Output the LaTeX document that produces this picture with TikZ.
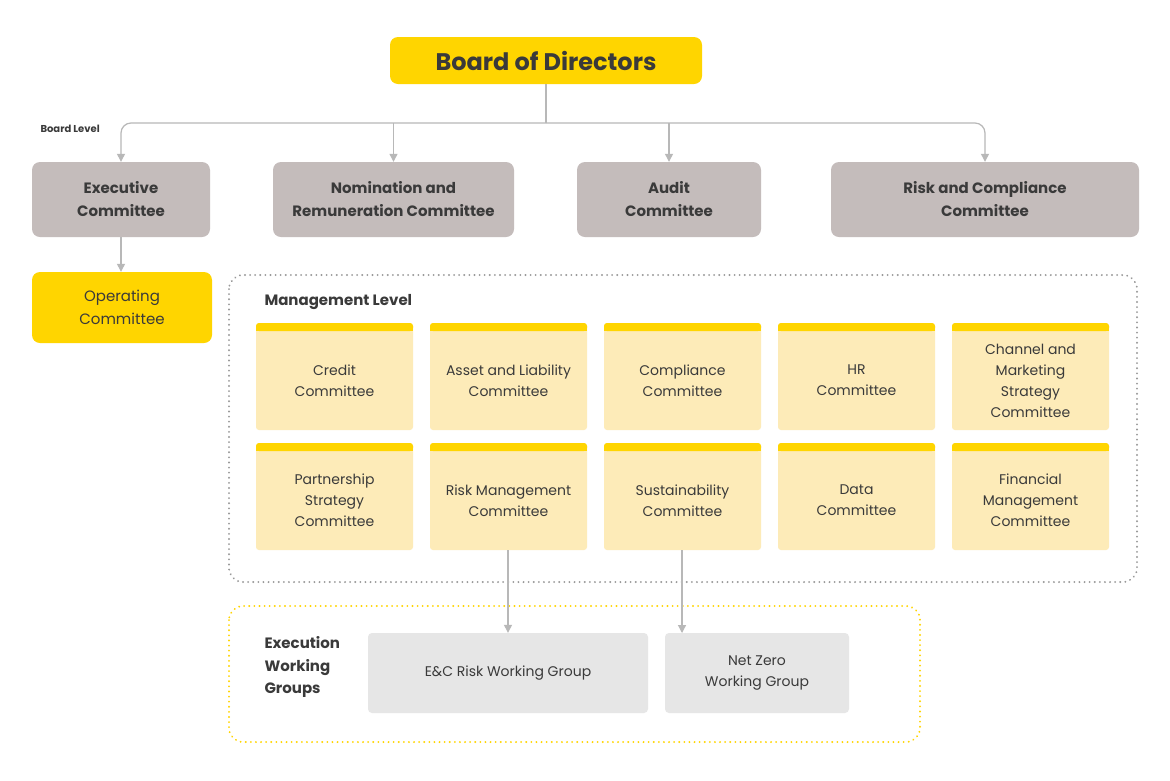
\documentclass[tikz,border=0pt]{standalone}
\usepackage{fontspec}
\setmainfont{Poppins}
\usetikzlibrary{arrows.meta}
\definecolor{yel}{HTML}{FFD500}
\definecolor{gry}{HTML}{C4BCBB}
\definecolor{lyel}{HTML}{FDEBB8}
\definecolor{lgry}{HTML}{E6E6E6}
\definecolor{txt}{HTML}{3A3A3A}
\definecolor{ln}{HTML}{B8B8B8}
\begin{document}
\begin{tikzpicture}[x=1pt,y=-1pt,
  box/.style={rounded corners=8pt,inner sep=0pt,align=center,text=txt},
  arr/.style={draw=ln,line width=1.2pt,-{Triangle[width=8pt,length=8pt]}},
  card/.style={font=\fontsize{14}{21}\selectfont,align=center,text=txt}]
\useasboundingbox (0,0) rectangle (1170,780);
\fill[white] (0,0) rectangle (1170,780);
% board
\node[box,fill=yel,minimum width=312pt,minimum height=47pt,font=\fontsize{24}{28}\selectfont\bfseries] (board) at (546,60.5) {Board of Directors};
\node[font=\fontsize{10}{12}\selectfont\bfseries,text=txt,anchor=west] (bl) at (37,129) {Board Level};
\tikzset{gb/.style={box,fill=gry,minimum height=75pt,font=\fontsize{15}{23}\selectfont\bfseries}}
\node[gb,minimum width=178pt] (exec) at (121,199.5) {Executive\\Committee};
\node[gb,minimum width=241pt] (nom) at (393.5,199.5) {Nomination and\\Remuneration Committee};
\node[gb,minimum width=184pt] (aud) at (669,199.5) {Audit\\Committee};
\node[gb,minimum width=308pt] (risk) at (985,199.5) {Risk and Compliance\\Committee};
\coordinate (hj) at (546,123);
\draw[ln,line width=1.2pt] (board.south) -- (hj);
\draw[arr,rounded corners=10pt] (hj) -| (exec.north);
\draw[arr,rounded corners=10pt] (hj) -| (risk.north);
\draw[arr] (nom.north|-hj) -- (nom.north);
\draw[arr] (aud.north|-hj) -- (aud.north);
\node[box,fill=yel,minimum width=180pt,minimum height=71pt,font=\fontsize{15}{23}\selectfont] (op) at (122,307.5) {Operating\\Committee};
\draw[arr] (exec.south) -- (op.north-|exec.south);
% management
\draw[gray!80,line width=2pt,dash pattern=on 0.1pt off 5pt,line cap=round,rounded corners=14pt] (229,275) rectangle (1137,582);
\node[font=\fontsize{15}{18}\selectfont\bfseries,text=txt,anchor=west] (ml) at (261,302) {Management Level};
\def\cw{156}
\foreach \n/\x/\y/\t in {
 c1/256/323/{Credit\\Committee},
 c2/430/323/{Asset and Liability\\Committee},
 c3/604/323/{Compliance\\Committee},
 c4/778/323/{HR\\Committee},
 c5/952/323/{Channel and\\Marketing\\Strategy\\Committee},
 c6/256/443/{Partnership\\Strategy\\Committee},
 c7/430/443/{Risk Management\\Committee},
 c8/604/443/{Sustainability\\Committee},
 c9/778/443/{Data\\Committee},
 c10/952/443/{Financial\\Management\\Committee}}{
  \fill[lyel,rounded corners=3pt] (\x,\y) rectangle ++(157,107);
  \fill[yel,rounded corners=3pt] (\x,\y) rectangle ++(157,8);
  \fill[yel] (\x,\y+4) rectangle ++(157,4);
  \node[card,minimum width=157pt,minimum height=99pt] (\n) at (\x+78.5,\y+57.5) {\t};
}
% execution
\draw[yel,line width=2pt,dash pattern=on 0.1pt off 5pt,line cap=round,rounded corners=14pt] (229,606) rectangle (920,742);
\node[font=\fontsize{15}{22.5}\selectfont\bfseries,text=txt,align=left,anchor=west] (ew) at (261,667) {Execution\\Working\\Groups};
\node[box,rounded corners=4pt,fill=lgry,minimum width=280pt,minimum height=80pt,font=\fontsize{14}{21}\selectfont] (ec) at (508,673) {E\&C Risk Working Group};
\node[box,rounded corners=4pt,fill=lgry,minimum width=184pt,minimum height=80pt,font=\fontsize{14}{21}\selectfont] (nz) at (757,673) {Net Zero\\Working Group};
\draw[arr] (508,550) -- (ec.north-|508,0);
\draw[arr] (682,550) -- (682,633);
\end{tikzpicture}
\end{document}
